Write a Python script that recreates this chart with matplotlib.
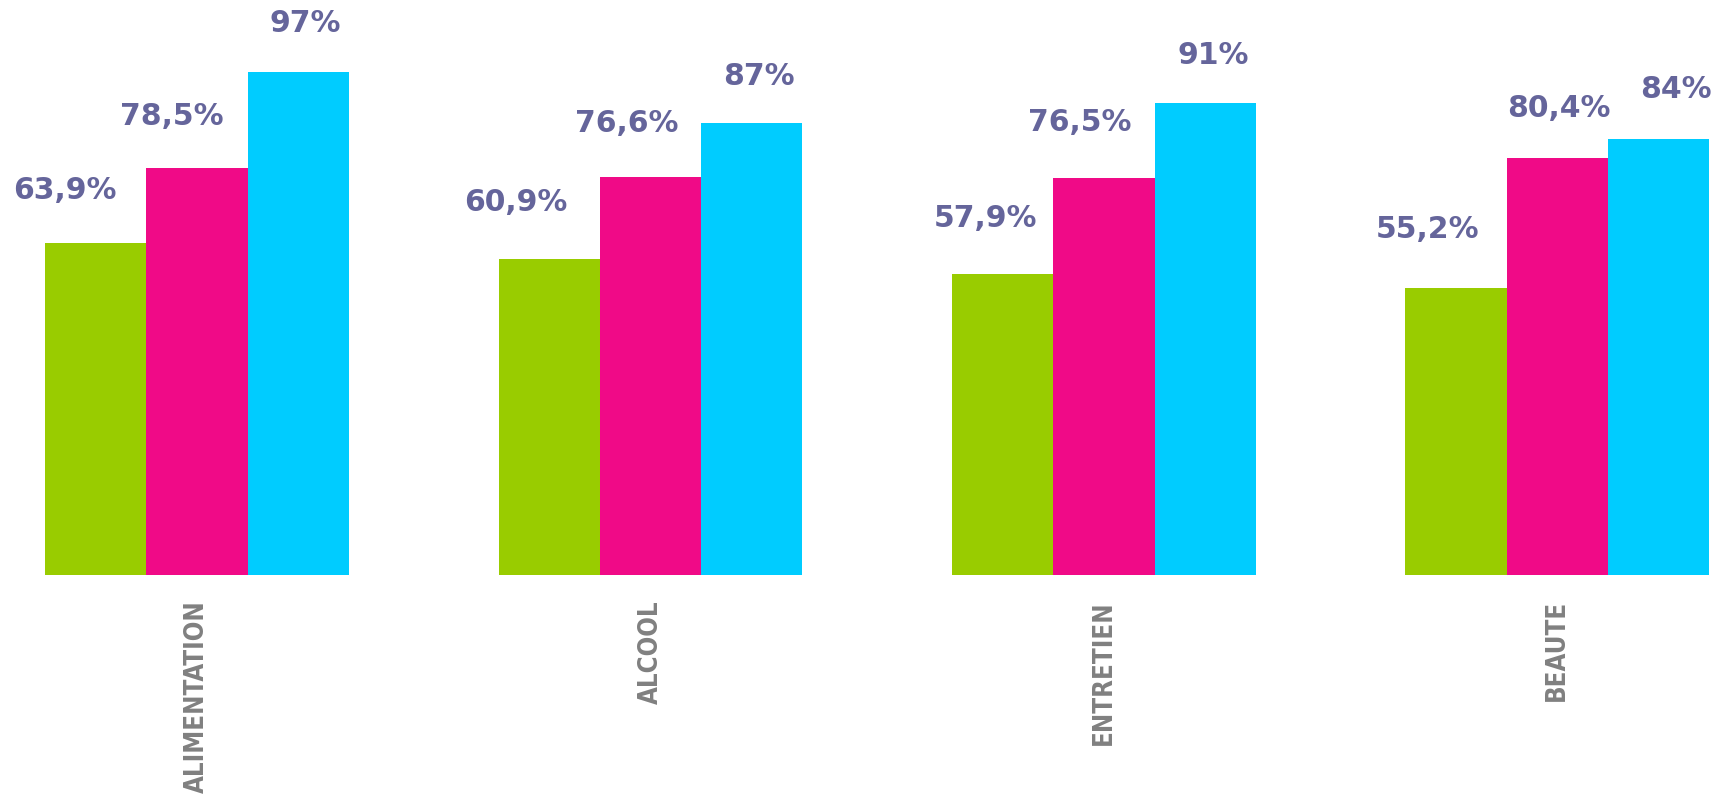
import numpy as np
import matplotlib
matplotlib.use('Agg')
import matplotlib.pyplot as plt

categories = ['ALIMENTATION', 'ALCOOL', 'ENTRETIEN', 'BEAUTE']
serie_1 = [63.9, 60.9, 57.9, 55.2]
serie_2 = [78.5, 76.6, 76.5, 80.4]
serie_3 = [97, 87, 91, 84]
labels_1 = ['63,9%', '60,9%', '57,9%', '55,2%']
labels_2 = ['78,5%', '76,6%', '76,5%', '80,4%']
labels_3 = ['97%', '87%', '91%', '84%']

colors = ['#99cc00', '#f00a87', '#00ccff']
col_lab = '#65659b'
col_cat = '#808080'

# label shifts in pixels (dx from bar centre, dy of baseline above bar top)
dx = [[-31, -33, -17, -28], [-25, -24, -24, 2], [7, 7, 8, 17]]
dy = [[44, 48, 47, 50], [43, 45, 47, 41], [40, 38, 39, 41]]

fig = plt.figure(figsize=(17.26, 7.97), dpi=100)
ax = fig.add_axes([0, 0.2786, 1, 0.7163])

x = np.arange(len(categories))
w = 0.2234
series = [serie_1, serie_2, serie_3]
labels = [labels_1, labels_2, labels_3]

for k in range(3):
    xs = x + (k - 1) * w
    ax.bar(xs, series[k], width=w, color=colors[k], linewidth=0)
    for i in range(len(categories)):
        ax.annotate(labels[k][i], xy=(xs[i], series[k][i]),
                    xytext=(dx[k][i], dy[k][i]), textcoords='offset pixels',
                    ha='center', va='baseline', fontsize=21.5,
                    fontweight='bold', color=col_lab, family='DejaVu Sans')

ax.set_xlim(-0.4345, 3.372)
ax.set_ylim(0, 110)
ax.set_xticks(x)
ax.set_xticklabels(categories, rotation=90, fontsize=18.5, color=col_cat,
                   family='DejaVu Sans', fontstretch='condensed',
                   fontweight='bold')
ax.tick_params(axis='x', length=0, pad=18)
ax.set_yticks([])
for s in ax.spines.values():
    s.set_visible(False)

plt.savefig('out.png', dpi=100)
